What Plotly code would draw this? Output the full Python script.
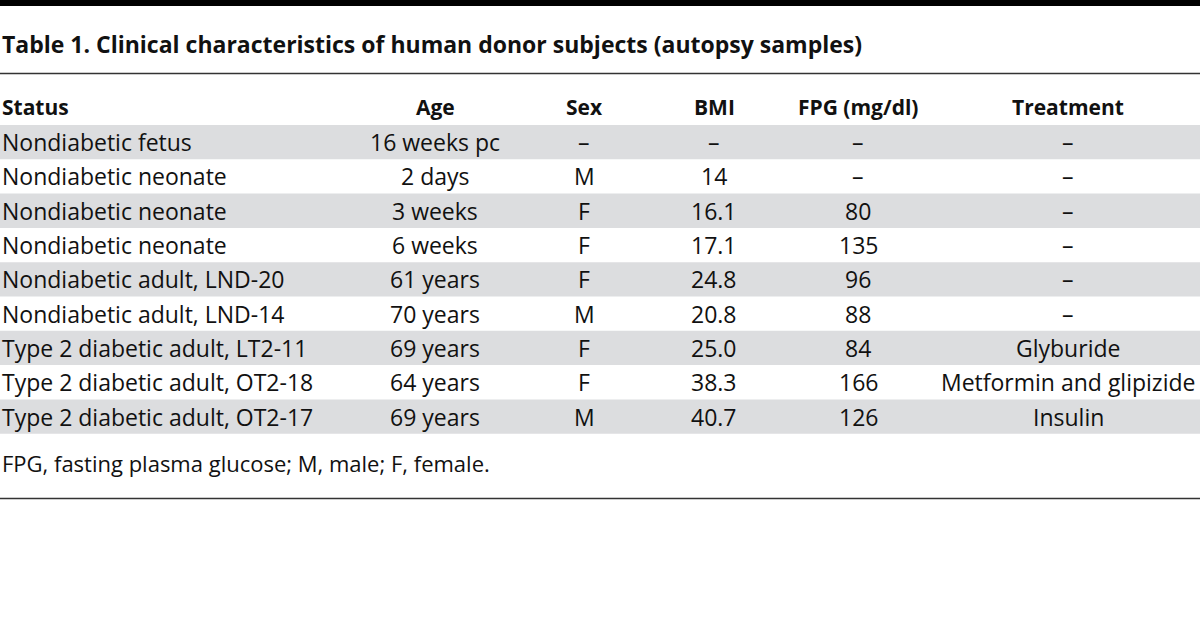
import plotly.graph_objects as go

title = "Table 1. Clinical characteristics of human donor subjects (autopsy samples)"
headers = ["Status", "Age", "Sex", "BMI", "FPG (mg/dl)", "Treatment"]
status = ["Nondiabetic fetus", "Nondiabetic neonate", "Nondiabetic neonate", "Nondiabetic neonate",
          "Nondiabetic adult, LND-20", "Nondiabetic adult, LND-14", "Type 2 diabetic adult, LT2-11",
          "Type 2 diabetic adult, OT2-18", "Type 2 diabetic adult, OT2-17"]
age = ["16 weeks pc", "2 days", "3 weeks", "6 weeks", "61 years", "70 years", "69 years", "64 years", "69 years"]
sex = ["–", "M", "F", "F", "F", "M", "F", "F", "M"]
bmi = ["–", "14", "16.1", "17.1", "24.8", "20.8", "25.0", "38.3", "40.7"]
fpg = ["–", "–", "80", "135", "96", "88", "84", "166", "126"]
treatment = ["–", "–", "–", "–", "–", "–", "Glyburide", "Metformin and glipizide", "Insulin"]
footnote = "FPG, fasting plasma glucose; M, male; F, female."

columns = [status, age, sex, bmi, fpg, treatment]
col_x = [0, 435, 584, 714, 858, 1068]
col_anchor = ["left", "center", "center", "center", "center", "center"]

BODY_FONT = "Open Sans"
ROW_TOP = 125
ROW_H = 34.3
SHADE = "rgb(220,221,223)"
INK = "#111111"

fig = go.Figure()
shapes = []
annotations = []

# top bar
shapes.append(dict(type="rect", x0=0, x1=1200, y0=0, y1=6, fillcolor="black", line_width=0, layer="below"))
# rules
shapes.append(dict(type="line", x0=0, x1=1200, y0=73.5, y1=73.5, line=dict(color="#333333", width=1.5)))
shapes.append(dict(type="line", x0=0, x1=1200, y0=498.5, y1=498.5, line=dict(color="#333333", width=1.5)))

n = len(status)
for i in range(n):
    if i % 2 == 0:
        shapes.append(dict(type="rect", x0=0, x1=1200, y0=ROW_TOP + i * ROW_H, y1=ROW_TOP + (i + 1) * ROW_H,
                           fillcolor=SHADE, line_width=0, layer="below"))

annotations.append(dict(x=0, y=44, text="<b>" + title + "</b>", xanchor="left", yanchor="middle",
                        showarrow=False, font=dict(family=BODY_FONT, size=23, color=INK)))

for j, h in enumerate(headers):
    annotations.append(dict(x=col_x[j], y=107, text="<b>" + h + "</b>", xanchor=col_anchor[j], yanchor="middle",
                            showarrow=False, font=dict(family=BODY_FONT, size=21, color=INK)))

for j, col in enumerate(columns):
    for i, v in enumerate(col):
        annotations.append(dict(x=col_x[j], y=ROW_TOP + (i + 0.5) * ROW_H, text=v, xanchor=col_anchor[j],
                                yanchor="middle", showarrow=False,
                                font=dict(family=BODY_FONT, size=23, color=INK)))

annotations.append(dict(x=0, y=463, text=footnote, xanchor="left", yanchor="middle", showarrow=False,
                        font=dict(family=BODY_FONT, size=22, color=INK)))

fig.update_layout(
    width=1200, height=618,
    margin=dict(l=0, r=0, t=0, b=0),
    paper_bgcolor="white", plot_bgcolor="white",
    xaxis=dict(range=[0, 1200], visible=False, fixedrange=True),
    yaxis=dict(range=[618, 0], visible=False, fixedrange=True),
    shapes=shapes, annotations=annotations, showlegend=False,
)
fig.write_html("out.html", config={"displayModeBar": False},
               post_script="document.body.style.margin='0';document.body.style.overflow='hidden';")
